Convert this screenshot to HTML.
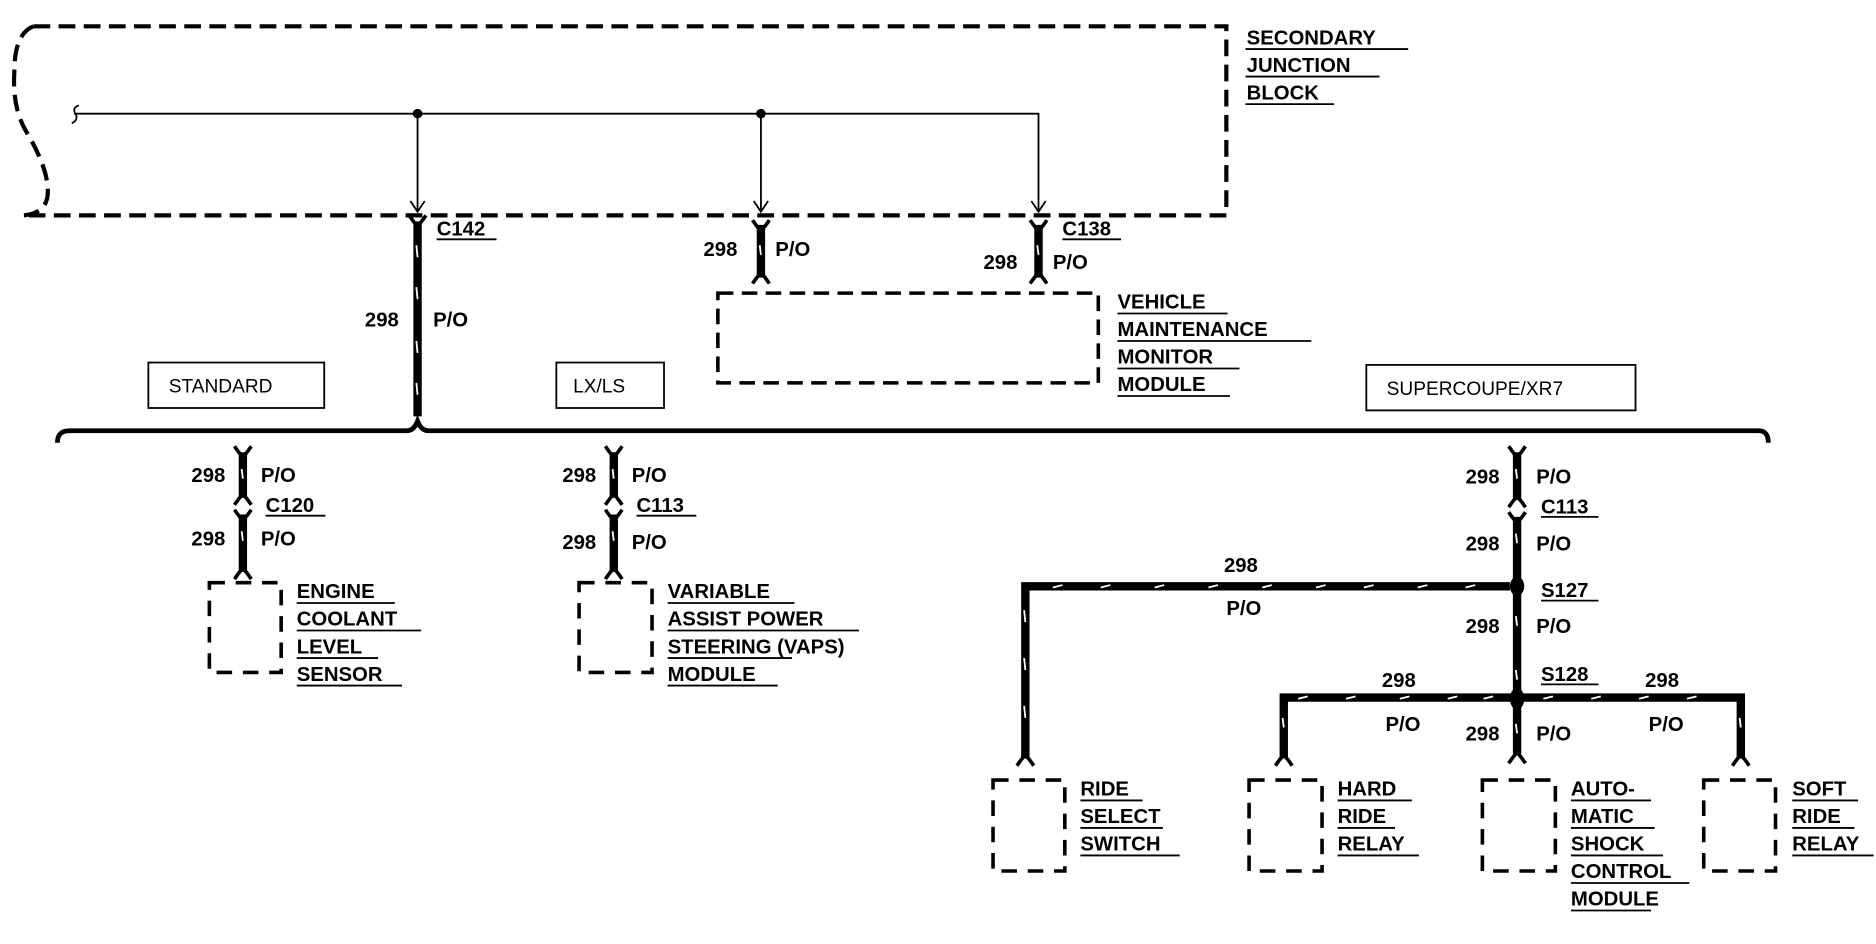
<!DOCTYPE html>
<html><head><meta charset="utf-8"><style>
html,body{margin:0;padding:0;background:#fff;}
svg{display:block;}
text{font-family:"Liberation Sans",sans-serif;font-weight:bold;font-size:17px;fill:#000;}
</style></head><body>
<svg width="1876" height="944" viewBox="0 0 1568 789" xmlns="http://www.w3.org/2000/svg">
<defs>
<g id="fork"><path d="M-7,-6 Q-3,0 0,3 Q3,0 7,-6" fill="none" stroke="#000" stroke-width="3"/></g>
<g id="forkd"><path d="M-7,6 Q-3,0 0,-3 Q3,0 7,6" fill="none" stroke="#000" stroke-width="3"/></g>
</defs>
<g fill="none" stroke="#000">
<!-- junction block -->
<path d="M28,22 H1025 V180 H20" stroke-width="3.5" stroke-dasharray="14,7"/>
<path d="M28,22 Q12,28 12,60 Q10,90 22,110 Q40,140 40,160 Q40,178 20,180" stroke-width="3.5" stroke-dasharray="14,7"/>
<path d="M62,95 H868 V176 M349,95 V176 M636,95 V176" stroke-width="1.5"/>
<path d="M343,168 L349,177 L355,168 M630,168 L636,177 L642,168 M862,168 L868,177 L874,168" stroke-width="1.5"/>
<path d="M66,88 Q60,90 63,95 Q66,100 60,103" stroke-width="1.5"/>
<!-- VMM box -->
<rect x="600" y="245" width="318" height="75" stroke-width="3" stroke-dasharray="13,7"/>
<!-- mode boxes -->
<rect x="124" y="303" width="147" height="38" stroke-width="1.5"/>
<rect x="465" y="303" width="90" height="38" stroke-width="1.5"/>
<rect x="1142" y="305" width="225" height="38" stroke-width="1.5"/>
<!-- brace -->
<path d="M48,370 Q48,360 58,360 H340 Q346,360 349,352 Q352,360 358,360 H1470 Q1478,360 1478,370" stroke-width="4"/>
<!-- thick wires -->
<g stroke-width="7">
<path d="M349,185 V348"/>
<path d="M636,188 V232 M868,188 V232"/>
<path d="M203,378 V416 M203,430 V478"/>
<path d="M513,378 V416 M513,430 V478"/>
<path d="M1268,378 V418 M1268,432 V582 M1268,583 V630"/>
<path d="M857,634 V490 H1262 M1073,634 V583 H1455 V634"/>
</g>
<!-- white marks -->
<g stroke="#fff" stroke-width="1.5">
<path d="M348,205 l1,10 M348,240 l1,10 M348,285 l1,10 M348,320 l1,10 M635,205 l1,8 M867,205 l1,8 M202,392 l1,8 M202,444 l1,8 M512,392 l1,8 M512,444 l1,8 M1267,392 l1,8 M1267,446 l1,8 M1267,515 l1,8 M1267,560 l1,8 M1267,605 l1,8 M856,510 l1,10 M856,550 l1,10 M856,590 l1,10 M1072,600 l1,8 M1454,600 l1,8"/>
<path d="M880,491 l8,-2 M920,491 l8,-2 M965,491 l8,-2 M1010,491 l8,-2 M1055,491 l8,-2 M1100,491 l8,-2 M1140,491 l8,-2 M1185,491 l8,-2 M1225,491 l8,-2 M1085,584 l8,-2 M1125,584 l8,-2 M1170,584 l8,-2 M1210,584 l8,-2 M1240,584 l8,-2 M1290,584 l8,-2 M1330,584 l8,-2 M1370,584 l8,-2 M1410,584 l8,-2"/>
</g>
<!-- component boxes -->
<g stroke-width="3" stroke-dasharray="13,9">
<rect x="175" y="487" width="60" height="75"/>
<rect x="484" y="487" width="61" height="75"/>
<rect x="830" y="652" width="60" height="76"/>
<rect x="1044" y="652" width="61" height="76"/>
<rect x="1239" y="652" width="61" height="76"/>
<rect x="1424" y="652" width="60" height="76"/>
</g>
<!-- underlines -->
<g stroke-width="1.5">
<path d="M1041,41 H1177 M1041,64 H1153 M1041,87 H1115"/>
<path d="M365,200 H415 M888,200 H937 M222,431 H272 M532,431 H582 M1288,432 H1336 M1288,502 H1336 M1288,572 H1336"/>
<path d="M934,262 H1026 M934,285 H1096 M934,308 H1036 M934,331 H1028"/>
<path d="M248,504 H330 M248,527 H352 M248,550 H316 M248,573 H336"/>
<path d="M558,504 H664 M558,527 H718 M558,550 H662 M558,573 H650"/>
<path d="M903,669 H955 M903,692 H972 M903,715 H986"/>
<path d="M1118,669 H1180 M1118,692 H1166 M1118,715 H1186"/>
<path d="M1313,669 H1380 M1313,692 H1383 M1313,715 H1390 M1313,738 H1412 M1313,761 H1380"/>
<path d="M1498,669 H1553 M1498,692 H1550 M1498,715 H1566"/>
</g>
</g>
<!-- forks -->
<use href="#fork" x="349" y="186"/>
<use href="#fork" x="636" y="190"/><use href="#forkd" x="636" y="231"/>
<use href="#fork" x="868" y="190"/><use href="#forkd" x="868" y="231"/>
<use href="#fork" x="203" y="379"/><use href="#forkd" x="203" y="416"/><use href="#fork" x="203" y="432"/><use href="#forkd" x="203" y="478"/>
<use href="#fork" x="513" y="379"/><use href="#forkd" x="513" y="416"/><use href="#fork" x="513" y="432"/><use href="#forkd" x="513" y="478"/>
<use href="#fork" x="1268" y="379"/><use href="#forkd" x="1268" y="418"/><use href="#fork" x="1268" y="434"/>
<use href="#forkd" x="857" y="634"/><use href="#forkd" x="1073" y="634"/><use href="#forkd" x="1268" y="632"/><use href="#forkd" x="1455" y="634"/>
<circle cx="349" cy="95" r="4"/><circle cx="636" cy="95" r="4"/>
<ellipse cx="1268" cy="490" rx="6" ry="8"/><ellipse cx="1268" cy="584" rx="6" ry="9"/>
<!-- text -->
<text x="1042" y="37">SECONDARY</text><text x="1042" y="60">JUNCTION</text><text x="1042" y="83">BLOCK</text>
<text x="365" y="197">C142</text><text x="888" y="197">C138</text>
<text x="305" y="273">298</text><text x="362" y="273">P/O</text>
<text x="588" y="214">298</text><text x="648" y="214">P/O</text>
<text x="822" y="225">298</text><text x="880" y="225">P/O</text>
<text x="934" y="258">VEHICLE</text><text x="934" y="281">MAINTENANCE</text><text x="934" y="304">MONITOR</text><text x="934" y="327">MODULE</text>
<text x="141" y="328" style="font-weight:normal;font-size:16px">STANDARD</text>
<text x="479" y="328" style="font-weight:normal;font-size:16px">LX/LS</text>
<text x="1159" y="330" style="font-weight:normal;font-size:16px">SUPERCOUPE/XR7</text>
<text x="160" y="403">298</text><text x="218" y="403">P/O</text><text x="222" y="428">C120</text><text x="160" y="456">298</text><text x="218" y="456">P/O</text>
<text x="470" y="403">298</text><text x="528" y="403">P/O</text><text x="532" y="428">C113</text><text x="470" y="459">298</text><text x="528" y="459">P/O</text>
<text x="248" y="500">ENGINE</text><text x="248" y="523">COOLANT</text><text x="248" y="546">LEVEL</text><text x="248" y="569">SENSOR</text>
<text x="558" y="500">VARIABLE</text><text x="558" y="523">ASSIST POWER</text><text x="558" y="546">STEERING (VAPS)</text><text x="558" y="569">MODULE</text>
<text x="1225" y="404">298</text><text x="1284" y="404">P/O</text><text x="1288" y="429">C113</text>
<text x="1225" y="460">298</text><text x="1284" y="460">P/O</text>
<text x="1288" y="499">S127</text><text x="1023" y="478">298</text><text x="1025" y="514">P/O</text>
<text x="1225" y="529">298</text><text x="1284" y="529">P/O</text>
<text x="1288" y="569">S128</text>
<text x="1155" y="574">298</text><text x="1158" y="611">P/O</text>
<text x="1375" y="574">298</text><text x="1378" y="611">P/O</text>
<text x="1225" y="619">298</text><text x="1284" y="619">P/O</text>
<text x="903" y="665">RIDE</text><text x="903" y="688">SELECT</text><text x="903" y="711">SWITCH</text>
<text x="1118" y="665">HARD</text><text x="1118" y="688">RIDE</text><text x="1118" y="711">RELAY</text>
<text x="1313" y="665">AUTO-</text><text x="1313" y="688">MATIC</text><text x="1313" y="711">SHOCK</text><text x="1313" y="734">CONTROL</text><text x="1313" y="757">MODULE</text>
<text x="1498" y="665">SOFT</text><text x="1498" y="688">RIDE</text><text x="1498" y="711">RELAY</text>
</svg>
</body></html>
